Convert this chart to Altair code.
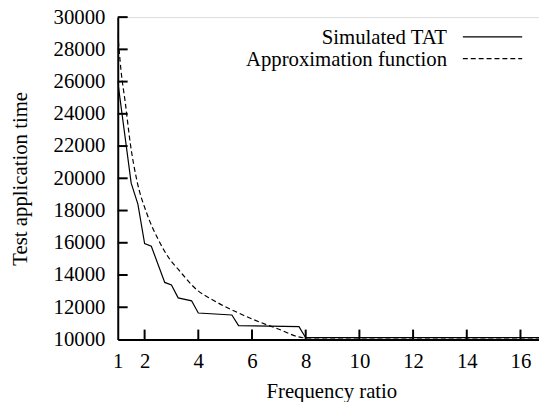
import altair as alt
import pandas as pd

# Simulated TAT (solid)
sim_x = [1, 1.5, 1.75, 2, 2.25, 2.75, 3, 3.25, 3.75, 4, 5.25, 5.5, 7.75, 8, 17]
sim_y = [26000, 19700, 18400, 15950, 15780, 13540, 13380, 12580, 12400, 11640, 11520, 10860, 10800, 10110, 10110]

# Approximation function (dashed)
app_x = [1, 1.12, 1.28, 1.47, 1.71, 2.08, 2.51, 2.94, 3.25, 3.98, 4.47, 5.70, 6.93, 8.0, 17]
app_y = [29000, 26700, 24700, 22130, 19880, 17830, 16200, 14970, 14360, 13030, 12520, 11490, 10680, 10100, 10100]

x_ticks = [1, 2, 4, 6, 8, 10, 12, 14, 16]
y_ticks = [10000, 12000, 14000, 16000, 18000, 20000, 22000, 24000, 26000, 28000, 30000]
legend_labels = ["Simulated TAT", "Approximation function"]

FONT = "Liberation Serif"
FS = 21
W, H = 426, 326

xs = alt.Scale(domain=[1, 16.69], nice=False, zero=False)
ys = alt.Scale(domain=[10000, 30000], nice=False, zero=False)

sim_df = pd.DataFrame({"x": sim_x, "y": sim_y})
app_df = pd.DataFrame({"x": app_x, "y": app_y})

x_axis = alt.Axis(values=x_ticks, ticks=False, grid=False, domainWidth=2, domainColor="black",
                  labelPadding=11, labelFontSize=FS, labelFont=FONT, labelColor="black",
                  labelFlush=False, labelOverlap=False, format="d",
                  title="Frequency ratio", titleFont=FONT, titleFontSize=FS, titleFontWeight="normal",
                  titleColor="black", titleBaseline="alphabetic", titleY=59, titleX=216)
y_axis = alt.Axis(values=y_ticks, ticks=False, grid=False, domainWidth=2, domainColor="black",
                  labelPadding=13, labelFontSize=FS, labelFont=FONT, labelColor="black",
                  labelFlush=False, labelOverlap=False, format="d",
                  title="Test application time", titleFont=FONT, titleFontSize=FS, titleFontWeight="normal",
                  titleColor="black", titleBaseline="alphabetic", titleX=-92, titleY=163, titleAngle=270)

X = lambda f: alt.X(f, scale=xs, axis=x_axis)
Y = lambda f: alt.Y(f, scale=ys, axis=y_axis)

sim = alt.Chart(sim_df).mark_line(color="black", strokeWidth=1.2, clip=True).encode(
    x=X("x:Q"), y=Y("y:Q"))
app = alt.Chart(app_df).mark_line(color="black", strokeWidth=1.2, strokeDash=[5, 3],
                                  interpolate="monotone", clip=True).encode(
    x=X("x:Q"), y=Y("y:Q"))

xt = alt.Chart(pd.DataFrame({"t": x_ticks[1:]})).mark_rule(color="black", strokeWidth=2).encode(
    x=X("t:Q"), y=alt.value(H), y2=alt.value(H - 10))
yt = alt.Chart(pd.DataFrame({"t": y_ticks[1:]})).mark_rule(color="black", strokeWidth=2).encode(
    y=Y("t:Q"), x=alt.value(0), x2=alt.value(10))

leg1 = alt.Chart(pd.DataFrame({"t": [legend_labels[0]]})).mark_text(
    font=FONT, fontSize=FS, align="right", baseline="alphabetic", color="black").encode(
    text="t:N", x=alt.value(333), y=alt.value(27.5))
leg2 = alt.Chart(pd.DataFrame({"t": [legend_labels[1]]})).mark_text(
    font=FONT, fontSize=FS, align="right", baseline="alphabetic", color="black").encode(
    text="t:N", x=alt.value(333), y=alt.value(49))
leg1l = alt.Chart(pd.DataFrame({"t": [0]})).mark_rule(color="black", strokeWidth=1.2).encode(
    x=alt.value(349), x2=alt.value(409), y=alt.value(20))
leg2l = alt.Chart(pd.DataFrame({"t": [0]})).mark_rule(color="black", strokeWidth=1.2, strokeDash=[5, 3]).encode(
    x=alt.value(349), x2=alt.value(409), y=alt.value(42))

chart = alt.layer(sim, app, xt, yt, leg1, leg2, leg1l, leg2l).properties(
    width=W, height=H,
    autosize=alt.AutoSizeParams(type="none"),
    padding={"left": 111, "top": 7, "right": 0, "bottom": 61},
).configure_view(stroke=None).configure(background="white")

chart.save("out.html", embed_options={"renderer": "svg", "actions": False})
